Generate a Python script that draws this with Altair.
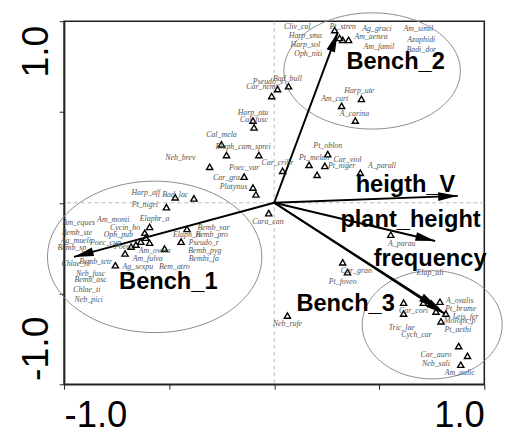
import numpy as np
import pandas as pd
import altair as alt

W, H = 427, 369

# species scores (triangles)
tri_x = [0.288, 0.311, 0.326, 0.354,
         0.415, 0.321, 0.386,
         0.016, 0.068, -0.012,
         -0.101, -0.096, -0.251, -0.227, -0.073, -0.307, -0.143,
         -0.101, -0.087, 0.040,
         0.166, 0.255, 0.241, 0.204, 0.410,
         -0.026, -0.471, -0.382, -0.513,
         -0.593, -0.616, -0.611, -0.635, -0.658, -0.681, -0.593,
         -0.415, -0.443, -0.522, -0.710, -0.756,
         0.555, 0.326, 0.349, 0.063,
         0.616, 0.616, 0.710, 0.789, 0.770, 0.817, 0.794,
         0.878, 0.920, 0.888]
tri_y = [0.951, 0.908, 0.897, 0.897,
         0.572, 0.534, 0.453,
         0.626, 0.642, 0.588,
         0.453, 0.415, 0.322, 0.263, 0.263, 0.198, 0.144,
         0.084, 0.046, 0.176,
         0.209, 0.268, 0.203, 0.154, 0.165,
         -0.057, 0.030, 0.024, -0.024,
         -0.133, -0.165, -0.192, -0.214, -0.230, -0.241, -0.220,
         -0.144, -0.214, -0.252, -0.279, -0.344,
         -0.176, -0.328, -0.382, -0.621,
         -0.550, -0.610, -0.550, -0.545, -0.599, -0.610, -0.653,
         -0.789, -0.843, -0.892]

# species labels
lab_names = ["Cliv_cal", "Pt_stren", "Ag_graci", "Am_simil", "Harp_sma", "Am_aenea",
             "Azaphidi", "Harp_sol", "Am_famil", "Badi_dor", "Oph_niti",
             "Harp_ute", "Am_curt", "A_carina", "Bad_bull", "Pseudo_s", "Car_nemo",
             "Harp_atu", "Cal_fusc", "Cal_mela", "Elaph_cam_sprei", "Neb_brev",
             "Poec_var", "Car_gra", "Platynus", "Car_cribr", "Pt_melan", "Pt_oblon",
             "Car_viol", "Pt_niger", "A_parall", "Cara_can",
             "Harp_aff", "Bad_lac", "Pt_nigri", "Am_eques", "Am_monti", "Elaphr_a",
             "Cycin_ho", "Bemb_ste", "Oph_pub", "Ag_mueli", "Poec_cup", "Bemb_sp",
             "Poeci", "Am_ovata", "Am_fulva", "Chlae_ni", "Bemb_tetr", "Ag_sexpu",
             "Bem_atro", "Neb_fusc", "Bemb_asc", "Chlae_ti", "Neb_pici",
             "Bemb_var", "Bemb_pro", "Elaph_ri", "Pseudo_r", "Bemb_pyg", "Bembi_fa",
             "A_parau", "Car_gran", "Pt_foveo", "Elap_uli", "Neb_rufe",
             "A_ovalis", "Pt_brume", "Leis_fer", "Molops_p", "Pt_aethi",
             "Tric_lae", "Cych_car", "Car_cori", "Car_auro", "Neb_sali", "Am_aulic"]
lab_x = [0.110, 0.326, 0.489, 0.686, 0.148, 0.461,
         0.700, 0.148, 0.498, 0.700, 0.162,
         0.405, 0.288, 0.382, 0.063, -0.030, -0.054,
         -0.101, -0.096, -0.251, -0.148, -0.447,
         -0.143, -0.227, -0.194, 0.016, 0.190, 0.255,
         0.349, 0.321, 0.513, -0.030,
         -0.611, -0.471, -0.616, -0.930, -0.766, -0.569,
         -0.710, -0.939, -0.742, -0.944, -0.803, -0.963,
         -0.720, -0.569, -0.602, -0.944, -0.850, -0.649,
         -0.475, -0.874, -0.874, -0.892, -0.883,
         -0.288, -0.297, -0.415, -0.335, -0.330, -0.335,
         0.607, 0.391, 0.326, 0.742, 0.063,
         0.883, 0.888, 0.911, 0.883, 0.874,
         0.607, 0.677, 0.663, 0.770, 0.770, 0.883]
lab_y = [0.968, 0.968, 0.957, 0.957, 0.919, 0.913,
         0.897, 0.870, 0.859, 0.843, 0.821,
         0.615, 0.572, 0.491, 0.680, 0.664, 0.637,
         0.496, 0.458, 0.371, 0.306, 0.247,
         0.192, 0.138, 0.089, 0.220, 0.247, 0.312,
         0.236, 0.203, 0.203, -0.106,
         0.051, 0.041, -0.014, -0.111, -0.095, -0.089,
         -0.138, -0.165, -0.176, -0.209, -0.220, -0.247,
         -0.245, -0.268, -0.312, -0.339, -0.328, -0.355,
         -0.355, -0.393, -0.425, -0.480, -0.534,
         -0.138, -0.176, -0.176, -0.220, -0.268, -0.312,
         -0.230, -0.377, -0.436, -0.388, -0.669,
         -0.539, -0.588, -0.631, -0.653, -0.702,
         -0.691, -0.729, -0.599, -0.837, -0.886, -0.940]

# environmental / centroid arrows
arrow_names = ["Bench_2", "heigth_V", "plant_height", "frequency", "Bench_3", "Bench_1"]
arrow_x = [0.302, 0.874, 0.766, 0.780, 0.813, -0.953]
arrow_y = [0.938, 0.038, -0.211, -0.580, -0.612, -0.298]
arrow_lab_x = [0.578, 0.625, 0.649, 0.742, 0.340, -0.504]
arrow_lab_y = [0.772, 0.095, -0.095, -0.312, -0.556, -0.436]

# group ellipses
ell_names = ["Bench_1", "Bench_2", "Bench_3"]
ell_cx = [-0.569, 0.466, 0.752]
ell_cy = [-0.298, 0.726, -0.672]
ell_rx = [0.510, 0.420, 0.333]
ell_ry = [0.417, 0.320, 0.298]

tri_df = pd.DataFrame({"x": tri_x, "y": tri_y})
lab_df = pd.DataFrame({"name": lab_names, "x": lab_x, "y": lab_y})
arr_df = pd.DataFrame({"name": arrow_names, "x": arrow_x, "y": arrow_y,
                       "x0": 0.0, "y0": 0.0})
arr_df["ang"] = np.degrees(np.arctan2(arr_df["x"] * W / 2, arr_df["y"] * H / 2)) % 360
arrlab_df = pd.DataFrame({"name": arrow_names, "x": arrow_lab_x, "y": arrow_lab_y})

t = np.linspace(0, 2 * np.pi, 145)
rows = []
for n, cx, cy, rx, ry in zip(ell_names, ell_cx, ell_cy, ell_rx, ell_ry):
    for i, tt in enumerate(t):
        rows.append({"name": n, "x": cx + rx * np.cos(tt), "y": cy + ry * np.sin(tt), "o": i})
ell_df = pd.DataFrame(rows)

x_axis = alt.Axis(values=[-1, -0.5, 0, 0.5, 1], title=None, grid=False,
                  labelExpr="datum.value == -1 ? '-1.0' : (datum.value == 1 ? '1.0' : '')",
                  labelFont="Liberation Sans", labelFontSize=37, labelColor="black",
                  labelFlush=True, labelOverlap=False, labelPadding=9,
                  tickSize=5, tickColor="#222222", domainColor="#222222", domainWidth=1.6)
y_axis = alt.Axis(values=[-1, -0.5, 0, 0.5, 1], title=None, grid=False,
                  labelExpr="datum.value == -1 ? '-1.0' : (datum.value == 1 ? '1.0' : '')",
                  labelFont="Liberation Sans", labelFontSize=38, labelColor="black",
                  labelAngle=270, labelFlush=False, labelOverlap=False,
                  labelAlign={"condition": {"test": "datum.value > 0", "value": "right"},
                              "value": "left"},
                  labelOffset={"condition": {"test": "datum.value > 0", "value": 4},
                               "value": -4},
                  labelBaseline="bottom", labelPadding=4,
                  tickSize=5, tickColor="#222222", domainColor="#222222", domainWidth=1.6)
xs = alt.Scale(domain=[-1, 1], nice=False, zero=False)
ys = alt.Scale(domain=[-1, 1], nice=False, zero=False)

def X(f):
    return alt.X(f, type="quantitative", scale=xs, axis=x_axis)

def Y(f):
    return alt.Y(f, type="quantitative", scale=ys, axis=y_axis)

ellipses = alt.Chart(ell_df).mark_line(color="#8a8a8a", strokeWidth=1).encode(
    x=X("x"), y=Y("y"), detail="name:N", order="o:Q")

zero_v = alt.Chart(tri_df.head(1)).mark_rule(color="#aaaaaa", strokeWidth=0.8,
                                             strokeDash=[4, 3]).encode(x=alt.datum(0))
zero_h = alt.Chart(tri_df.head(1)).mark_rule(color="#aaaaaa", strokeWidth=0.8,
                                             strokeDash=[4, 3]).encode(y=alt.datum(0))

arrows = alt.Chart(arr_df).mark_rule(color="black", strokeWidth=2).encode(
    x=X("x0"), y=Y("y0"), x2="x", y2="y")
heads = alt.Chart(arr_df).mark_point(shape="M0,0L-0.45,2L0.45,2Z", filled=True,
                                     color="black", opacity=1, size=400,
                                     strokeWidth=0).encode(
    x=X("x"), y=Y("y"), angle=alt.Angle("ang:Q", scale=None))

tris = alt.Chart(tri_df).mark_point(shape="triangle-up", filled=False, color="black",
                                    size=40, strokeWidth=1.4, opacity=1).encode(
    x=X("x"), y=Y("y"))

labels = alt.Chart(lab_df).mark_text(font="Liberation Serif", fontStyle="italic",
                                     fontSize=8, color="#555555",
                                     baseline="middle").encode(
    x=X("x"), y=Y("y"), text="name:N")

arrlabels = alt.Chart(arrlab_df).mark_text(font="Liberation Sans", fontWeight="bold",
                                           fontSize=24, color="black",
                                           baseline="middle").encode(
    x=X("x"), y=Y("y"), text="name:N")

chart = alt.layer(ellipses, zero_v, zero_h, arrows, tris, labels, heads, arrlabels).properties(
    width=W, height=H,
    autosize=alt.AutoSizeParams(type="none"),
    padding={"left": 57, "top": 10, "right": 19, "bottom": 44},
    background="white",
).configure_view(stroke="#222222", strokeWidth=1.6)

chart.save("out.html", embed_options={"renderer": "svg", "actions": False})
